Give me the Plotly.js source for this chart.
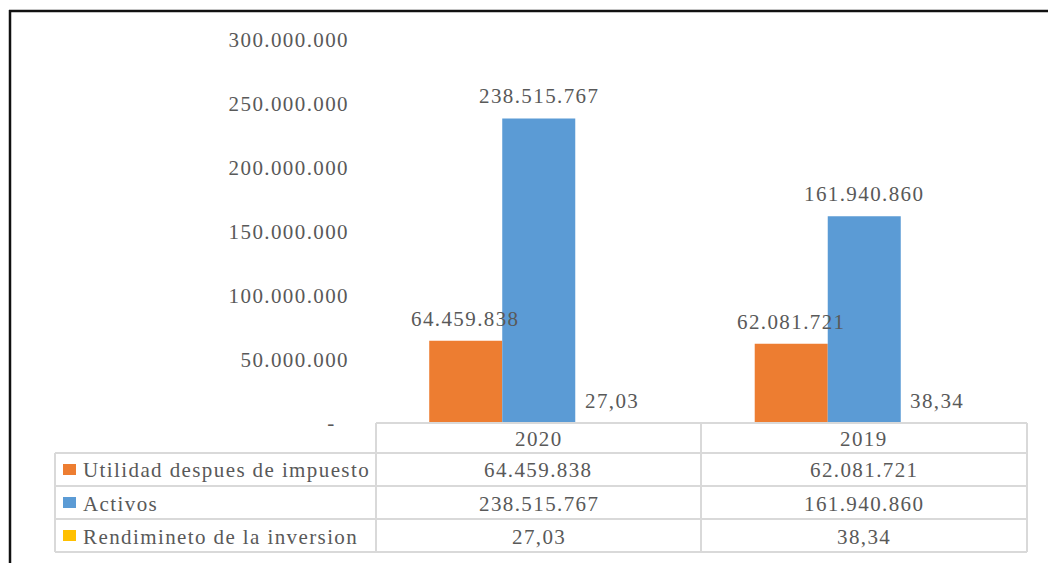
<!DOCTYPE html>
<html>
<head>
<meta charset="utf-8">
<script src="https://cdn.plot.ly/plotly-3.0.1.min.js"></script>
<style>
html,body{margin:0;padding:0;background:#fff;}
#chart{width:1048px;height:563px;}
</style>
</head>
<body>
<div id="chart"></div>
<script>
// ---- data ----
const categories = ['2020', '2019'];
const utilidad = [64459838, 62081721];
const activos = [238515767, 161940860];
const rendimiento = [27.03, 38.34];
const seriesNames = ['Utilidad despues de impuesto', 'Activos', 'Rendimineto de la inversion'];
const seriesColors = ['#ED7D31', '#5B9BD5', '#FFC000'];
const yTickVals = [0, 50000000, 100000000, 150000000, 200000000, 250000000, 300000000];
const yTickText = ['-\u00a0\u00a0', '50.000.000', '100.000.000', '150.000.000', '200.000.000', '250.000.000', '300.000.000'];

// ---- helpers ----
const W = 1048, H = 563;
const L = 376, R = 1027, T = 40, B = 423;
const BARGAP = 0.327;
const px = x => (x - L) / (R - L);
const py = y => (B - y) / (B - T);
const FONT = 'Liberation Serif, Times New Roman, serif';
const TXT = '#595959';
const FS = 21, LS = 1.4;
function fmt(v) {
  if (Number.isInteger(v)) return String(v).replace(/\B(?=(\d{3})+(?!\d))/g, '.');
  return v.toFixed(2).replace('.', ',');
}
const sp = s => '<span style="letter-spacing:' + LS + 'px">' + s + '</span>';

const seriesValues = [utilidad, activos, rendimiento];

const traces = seriesValues.map((vals, i) => ({
  type: 'bar', x: categories, y: vals, name: seriesNames[i],
  marker: {color: seriesColors[i], line: {width: 0}},
  hoverinfo: 'skip', showlegend: false
}));

// ---- table geometry ----
const rowY = [423, 453, 486, 519, 552];
const lineStyle = {color: '#D9D9D9', width: 2};
const shapes = [];
shapes.push({type: 'line', xref: 'paper', yref: 'paper', x0: px(376), x1: px(1027), y0: py(423), y1: py(423), line: lineStyle});
[453, 486, 519, 552].forEach(y => shapes.push({type: 'line', xref: 'paper', yref: 'paper', x0: px(55), x1: px(1027), y0: py(y), y1: py(y), line: lineStyle}));
[376, 701, 1027].forEach(x => shapes.push({type: 'line', xref: 'paper', yref: 'paper', x0: px(x), x1: px(x), y0: py(423), y1: py(552), line: lineStyle}));
shapes.push({type: 'line', xref: 'paper', yref: 'paper', x0: px(55), x1: px(55), y0: py(453), y1: py(552), line: lineStyle});
seriesColors.forEach((c, i) => {
  const cy = (rowY[i + 1] + rowY[i + 2]) / 2;
  shapes.push({type: 'rect', xref: 'paper', yref: 'paper', x0: px(63), x1: px(76), y0: py(cy - 5.5), y1: py(cy + 5.5), fillcolor: c, line: {width: 0}});
});
// outer frame (top & left)
shapes.push({type: 'line', xref: 'paper', yref: 'paper', x0: px(9), x1: px(1048), y0: py(11), y1: py(11), line: {color: '#111', width: 2.5}});
shapes.push({type: 'line', xref: 'paper', yref: 'paper', x0: px(10), x1: px(10), y0: py(10), y1: py(563), line: {color: '#111', width: 2.5}});

const annotations = [];
const tf = {family: FONT, size: FS, color: TXT};
// bar value labels (above bars, drawn on top of all bars)
const catWidthPx = (R - L) / categories.length;
const barWidthPx = catWidthPx * (1 - BARGAP) / seriesValues.length;
seriesValues.forEach((vals, i) => {
  vals.forEach((v, j) => {
    annotations.push({xref: 'x', yref: 'y', x: j, y: v, text: sp(fmt(v)), showarrow: false, font: tf,
      xanchor: 'center', yanchor: 'bottom', xshift: (i - (seriesValues.length - 1) / 2) * barWidthPx, yshift: 8});
  });
});
// data table
categories.forEach((c, j) => {
  annotations.push({xref: 'x', yref: 'paper', x: j, y: py((rowY[0] + rowY[1]) / 2 + 1), text: sp(c), showarrow: false, font: tf, xanchor: 'center', yanchor: 'middle'});
  seriesValues.forEach((vals, i) => {
    annotations.push({xref: 'x', yref: 'paper', x: j, y: py((rowY[i + 1] + rowY[i + 2]) / 2 + 1), text: sp(fmt(vals[j])), showarrow: false, font: tf, xanchor: 'center', yanchor: 'middle'});
  });
});
seriesNames.forEach((n, i) => {
  annotations.push({xref: 'paper', yref: 'paper', x: px(81), y: py((rowY[i + 1] + rowY[i + 2]) / 2 + 1), text: sp(n), showarrow: false, font: tf, xanchor: 'left', yanchor: 'middle'});
});

const layout = {
  width: W, height: H,
  margin: {l: L, r: W - R, t: T, b: H - B, pad: 0},
  paper_bgcolor: '#fff', plot_bgcolor: 'rgba(0,0,0,0)',
  barmode: 'group', bargap: BARGAP, bargroupgap: 0,
  showlegend: false,
  separators: ',.',
  font: {family: FONT, size: FS, color: TXT},
  xaxis: {type: 'category', range: [-0.5, 1.5], showticklabels: false, showline: false, showgrid: false, zeroline: false, fixedrange: true},
  yaxis: {range: [0, 300000000], tickvals: yTickVals, ticktext: yTickText.map(sp), ticks: '', showline: false, showgrid: false, zeroline: false,
    ticklabelstandoff: 26, tickfont: {family: FONT, size: FS, color: TXT}, fixedrange: true},
  shapes: shapes,
  annotations: annotations
};

Plotly.newPlot('chart', traces, layout, {displayModeBar: false, staticPlot: true});
</script>
</body>
</html>
